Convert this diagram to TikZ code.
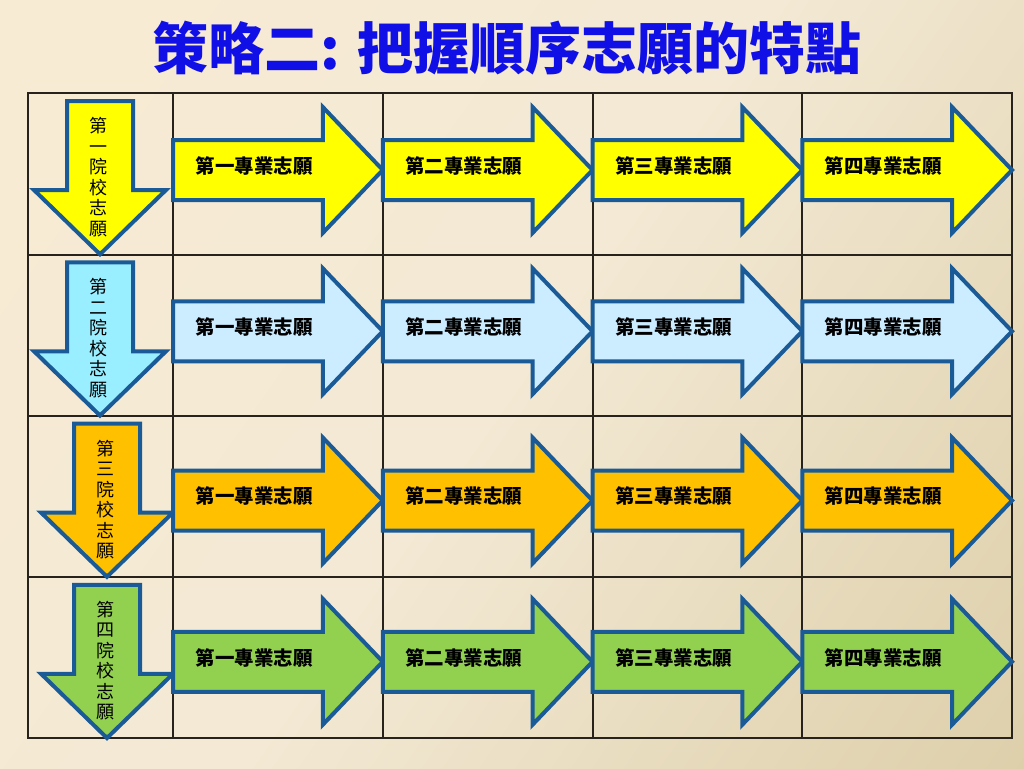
\documentclass[tikz,border=0pt]{standalone}
\usepackage{fontspec}
\setmainfont{Noto Sans CJK TC}

\definecolor{bglight}{RGB}{250,236,212}
\definecolor{bgmid}{RGB}{243,233,212}
\definecolor{bgdark}{RGB}{212,196,152}
\definecolor{titleblue}{RGB}{16,16,230}
\definecolor{gridline}{RGB}{40,34,28}
\definecolor{edgeblue}{RGB}{26,90,150}
\definecolor{rowyellow}{RGB}{255,255,0}
\definecolor{rowblue}{RGB}{204,236,255}
\definecolor{rowcyan}{RGB}{153,238,255}
\definecolor{roworange}{RGB}{255,192,0}
\definecolor{rowgreen}{RGB}{146,208,80}

\pgfdeclarehorizontalshading{slidebg}{100bp}{color(0bp)=(bglight); color(50bp)=(bgmid); color(100bp)=(bgdark)}

\tikzset{
  cell/.style={draw=gridline, line width=1.3pt},
  bigarrow/.style={draw=edgeblue, line width=4pt, line join=miter},
  majortext/.style={font=\bfseries\fontsize{19.5}{20}\selectfont, inner sep=0pt},
  schooltext/.style={font=\fontsize{18}{20.5}\selectfont, align=center, inner sep=0pt}
}

\begin{document}
\begin{tikzpicture}[x=1pt, y=-1pt]
  % background
  \shade[shading=slidebg, shading angle=-35] (0,0) rectangle (1024,768);
  \useasboundingbox (0,0) rectangle (1024,768);

  \node[font=\bfseries\fontsize{56}{60}\selectfont, text=titleblue] (title) at (507,48) {策略二: 把握順序志願的特點};

  % table
  \draw[cell] (28,93) rectangle (1012,738);
  \foreach \x in {173,383,593,802}
    \draw[cell] (\x,93) -- (\x,738);
  \foreach \y in {255,416,577}
    \draw[cell] (28,\y) -- (1012,\y);

  % one row per school
  \foreach \r/\fillc/\downc/\ord/\dx/\dy in {0/rowyellow/rowyellow/一/100/77, 1/rowblue/rowcyan/二/100/77,
      2/roworange/roworange/三/107/85, 3/rowgreen/rowgreen/四/107/85} {
    \pgfmathsetmacro{\top}{93+161.25*\r}
    \pgfmathsetmacro{\yc}{\top+\dy}
    \draw[bigarrow, fill=\downc] (\dx-33,\top+8) -- (\dx+33,\top+8) -- (\dx+33,\top+97) -- (\dx+66,\top+97)
      -- (\dx,\top+161.25) -- (\dx-66,\top+97) -- (\dx-33,\top+97) -- cycle;
    \node[schooltext] (school\r) at (\dx-2,\top+84) {第\\\ord\\院\\校\\志\\願};
    \foreach \c/\num in {0/一,1/二,2/三,3/四} {
      \pgfmathsetmacro{\xl}{173+209.75*\c}
      \pgfmathsetmacro{\xt}{\xl+209.75}
      \draw[bigarrow, fill=\fillc] (\xl,\yc-30) -- (\xt-60,\yc-30) -- (\xt-60,\yc-63) -- (\xt,\yc)
        -- (\xt-60,\yc+63) -- (\xt-60,\yc+30) -- (\xl,\yc+30) -- cycle;
      \node[majortext] (major\r\c) at (\xl+81,\yc-4) {第\num 專業志願};
    }
  }
\end{tikzpicture}
\end{document}
